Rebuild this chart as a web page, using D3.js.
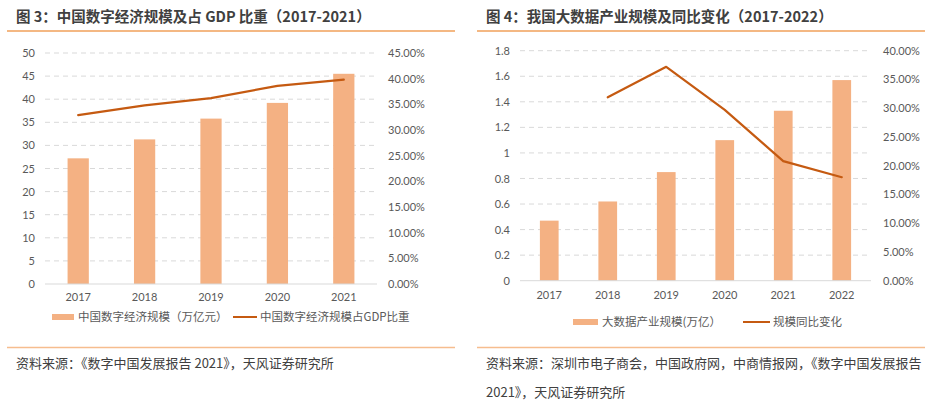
<!DOCTYPE html>
<html>
<head>
<meta charset="utf-8">
<script src="https://cdn.jsdelivr.net/npm/d3@7"></script>
<style>
  html, body { margin: 0; padding: 0; background: #fff; }
  svg { display: block; }
  text { font-family: Lato, "Noto Sans CJK SC", sans-serif; }
  .cjk { font-family: "Noto Sans CJK SC", sans-serif; }
</style>
</head>
<body>
<svg id="chart" width="936" height="412"></svg>
<script>
// ---------- Data ----------
const years1 = ["2017", "2018", "2019", "2020", "2021"];
const scale1 = [27.2, 31.3, 35.8, 39.2, 45.5];          // 万亿元
const share1 = [0.329, 0.348, 0.362, 0.386, 0.398];     // 占GDP比重
const leftTicks1 = [0, 5, 10, 15, 20, 25, 30, 35, 40, 45, 50];
const rightTicks1 = [0, 0.05, 0.10, 0.15, 0.20, 0.25, 0.30, 0.35, 0.40, 0.45];

const years2 = ["2017", "2018", "2019", "2020", "2021", "2022"];
const scale2 = [0.47, 0.62, 0.85, 1.10, 1.33, 1.57];    // 万亿
const growth2 = [null, 0.319, 0.372, 0.297, 0.208, 0.180];
const leftTicks2 = [0, 0.2, 0.4, 0.6, 0.8, 1, 1.2, 1.4, 1.6, 1.8];
const rightTicks2 = [0, 0.05, 0.10, 0.15, 0.20, 0.25, 0.30, 0.35, 0.40];

const title1 = "图 3：中国数字经济规模及占 GDP 比重（2017-2021）";
const title2 = "图 4：我国大数据产业规模及同比变化（2017-2022）";
const legend1 = ["中国数字经济规模（万亿元）", "中国数字经济规模占GDP比重"];
const legend2 = ["大数据产业规模(万亿）", "规模同比变化"];
const source1 = ["资料来源：《数字中国发展报告 2021》，天风证券研究所"];
const source2 = ["资料来源：深圳市电子商会，中国政府网，中商情报网，《数字中国发展报告", "2021》，天风证券研究所"];

// ---------- Styles ----------
const BAR = "#F4B183";
const LINE = "#C55A11";
const GRID = "#D9D9D9";
const AXIS_TXT = "#595959";
const TITLE_TXT = "#404040";
const TITLE_RULE = "#F0A05A";
const FOOT_RULE = "#F6BD8E";

const svg = d3.select("#chart");

function drawPanel(cfg) {
  const g = svg.append("g");
  // title
  g.append("text").attr("class", "cjk")
    .attr("x", cfg.titleX).attr("y", 22)
    .attr("font-size", 14.5).attr("font-weight", "bold").attr("fill", TITLE_TXT)
    .text(cfg.title);
  g.append("line").attr("x1", cfg.ruleX0).attr("x2", cfg.ruleX1)
    .attr("y1", 31).attr("y2", 31).attr("stroke", TITLE_RULE).attr("stroke-width", 1.5);

  const x = d3.scaleBand().domain(cfg.years).range([cfg.x0, cfg.x1]).paddingInner(cfg.pad).paddingOuter(cfg.pad / 2);
  const yL = d3.scaleLinear().domain([0, d3.max(cfg.leftTicks)]).range([cfg.yBot, cfg.yTop]);
  const yR = d3.scaleLinear().domain([0, d3.max(cfg.rightTicks)]).range([cfg.yBot, cfg.yTop]);

  // gridlines
  g.append("g").selectAll("line").data(cfg.leftTicks.filter(t => t > 0)).join("line")
    .attr("x1", cfg.x0).attr("x2", cfg.x1)
    .attr("y1", d => yL(d)).attr("y2", d => yL(d))
    .attr("stroke", GRID).attr("stroke-width", 1).attr("stroke-dasharray", "5,4");

  // bars
  g.append("g").selectAll("rect").data(cfg.values).join("rect")
    .attr("x", (d, i) => x(cfg.years[i]))
    .attr("width", x.bandwidth())
    .attr("y", d => yL(d))
    .attr("height", d => cfg.yBot - yL(d))
    .attr("fill", BAR);

  // baseline
  g.append("line").attr("x1", cfg.x0).attr("x2", cfg.x1)
    .attr("y1", cfg.yBot).attr("y2", cfg.yBot).attr("stroke", GRID).attr("stroke-width", 1);

  // line
  const pts = cfg.line.map((v, i) => ({ v, yr: cfg.years[i] })).filter(d => d.v != null);
  g.append("path").datum(pts)
    .attr("fill", "none").attr("stroke", LINE).attr("stroke-width", 2.2)
    .attr("stroke-linejoin", "round").attr("stroke-linecap", "round")
    .attr("d", d3.line().x(d => x(d.yr) + x.bandwidth() / 2).y(d => yR(d.v)));

  // axes
  const axL = g.append("g").attr("transform", `translate(${cfg.x0},0)`)
    .call(d3.axisLeft(yL).tickValues(cfg.leftTicks).tickSize(0).tickPadding(10).tickFormat(d => String(+d.toFixed(1))));
  const axR = g.append("g").attr("transform", `translate(${cfg.x1},0)`)
    .call(d3.axisRight(yR).tickValues(cfg.rightTicks).tickSize(0).tickPadding(cfg.rPad).tickFormat(d3.format(".2%")));
  const axB = g.append("g").attr("transform", `translate(0,${cfg.yBot})`)
    .call(d3.axisBottom(x).tickSize(0).tickPadding(cfg.bPad));
  [axL, axR, axB].forEach(a => {
    a.select(".domain").remove();
    a.selectAll("text").attr("fill", AXIS_TXT).attr("font-size", 11)
      .attr("font-family", "Lato, sans-serif");
  });

  // legend
  const lg = g.append("g").attr("transform", `translate(0,${cfg.legY})`);
  lg.append("rect").attr("x", cfg.leg[0]).attr("y", -3).attr("width", cfg.leg[1] - cfg.leg[0]).attr("height", 6).attr("fill", BAR);
  lg.append("text").attr("class", "cjk").attr("x", cfg.leg[2]).attr("y", 0).attr("dy", "0.36em")
    .attr("font-size", 11.5).attr("fill", AXIS_TXT).text(cfg.legend[0]);
  lg.append("line").attr("x1", cfg.leg[3]).attr("x2", cfg.leg[4]).attr("y1", 0).attr("y2", 0)
    .attr("stroke", LINE).attr("stroke-width", 2);
  lg.append("text").attr("class", "cjk").attr("x", cfg.leg[5]).attr("y", 0).attr("dy", "0.36em")
    .attr("font-size", 11.5).attr("fill", AXIS_TXT).text(cfg.legend[1]);

  // footer
  g.append("line").attr("x1", cfg.ruleX0).attr("x2", cfg.ruleX1)
    .attr("y1", 347.5).attr("y2", 347.5).attr("stroke", FOOT_RULE).attr("stroke-width", 1.5);
  g.append("g").selectAll("text").data(cfg.source).join("text").attr("class", "cjk")
    .attr("x", cfg.titleX).attr("y", (d, i) => 368 + i * 29)
    .attr("font-size", 13).attr("fill", TITLE_TXT).text(d => d);
}

drawPanel({
  title: title1, titleX: 16, ruleX0: 7, ruleX1: 455,
  years: years1, values: scale1, line: share1,
  leftTicks: leftTicks1, rightTicks: rightTicks1,
  x0: 45, x1: 377, yTop: 53, yBot: 284, pad: 0.68, rPad: 11, bPad: 9,
  legY: 317, leg: [52, 74, 78, 233, 257, 260], legend: legend1,
  source: source1
});

drawPanel({
  title: title2, titleX: 486, ruleX0: 477, ruleX1: 925,
  years: years2, values: scale2, line: growth2,
  leftTicks: leftTicks2, rightTicks: rightTicks2,
  x0: 520, x1: 871, yTop: 50.7, yBot: 280.7, pad: 0.68, rPad: 12, bPad: 11,
  legY: 322, leg: [573, 598, 602, 743, 770, 773], legend: legend2,
  source: source2
});
</script>
</body>
</html>
